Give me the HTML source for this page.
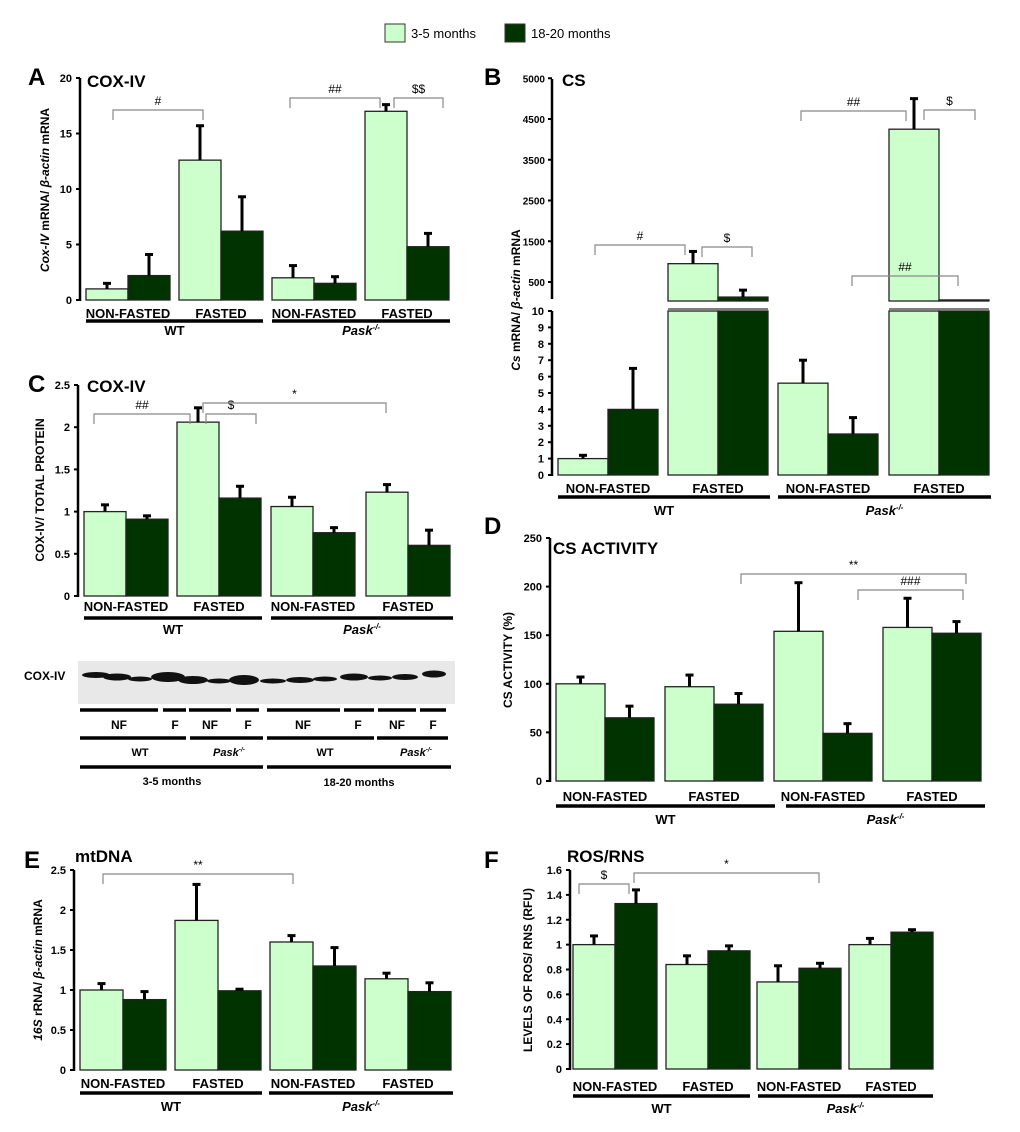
<!DOCTYPE html>
<html><head><meta charset="utf-8"><style>
body{margin:0;background:#fff;}
svg{display:block;font-family:"Liberation Sans",sans-serif;}
</style></head><body>
<svg id="fig" width="1020" height="1132" viewBox="0 0 1020 1132"></svg>
<script>
// ---------- DATA ----------
const groups = ["NON-FASTED","FASTED","NON-FASTED","FASTED"];
const aYoung=[1.0,12.6,2.0,17.0], aYoungErr=[1.5,15.7,3.1,17.6];
const aOld=[2.2,6.2,1.5,4.8], aOldErr=[4.1,9.3,2.1,6.0];
const aTicks=[0,5,10,15,20];
const bYoungLow=[1.0,10,5.6,10], bYoungLowErr=[1.2,null,7.0,null];
const bOldLow=[4.0,10,2.5,10], bOldLowErr=[6.5,null,3.5,null];
const bYoungHigh=[null,950,null,4250], bYoungHighErr=[null,1250,null,5000];
const bOldHigh=[null,130,null,60], bOldHighErr=[null,300,null,null];
const bTicksLow=[0,1,2,3,4,5,6,7,8,9,10];
const bTicksHigh=[500,1500,2500,3500,4500,5500];
const bTickLabelsHigh=["500","1500","2500","3500","4500","5000"];
const cYoung=[1.0,2.06,1.06,1.23], cYoungErr=[1.08,2.23,1.17,1.32];
const cOld=[0.91,1.16,0.75,0.6], cOldErr=[0.95,1.3,0.81,0.78];
const cTicks=[0,0.5,1,1.5,2,2.5];
const dYoung=[100,97,154,158], dYoungErr=[107,109,204,188];
const dOld=[65,79,49,152], dOldErr=[77,90,59,164];
const dTicks=[0,50,100,150,200,250];
const eYoung=[1.0,1.87,1.6,1.14], eYoungErr=[1.08,2.32,1.68,1.21];
const eOld=[0.88,0.99,1.3,0.98], eOldErr=[0.98,1.01,1.53,1.09];
const eTicks=[0,0.5,1,1.5,2,2.5];
const fYoung=[1.0,0.84,0.7,1.0], fYoungErr=[1.07,0.91,0.83,1.05];
const fOld=[1.33,0.95,0.81,1.1], fOldErr=[1.44,0.99,0.85,1.12];
const fTicks=[0,0.2,0.4,0.6,0.8,1,1.2,1.4,1.6];

const LIGHT="#ccffcc", DARK="#003300";
const svg=document.getElementById('fig');
const NS="http://www.w3.org/2000/svg";
function el(tag,attrs,parent){const e=document.createElementNS(NS,tag);for(const k in attrs)e.setAttribute(k,attrs[k]);(parent||svg).appendChild(e);return e;}
function txt(x,y,s,size,anchor,extra,parent){const t=el('text',Object.assign({x:x,y:y,'font-size':size,'font-weight':'bold','text-anchor':anchor||'start'},extra||{}),parent);t.textContent=s;return t;}
function pask(x,y,size,anchor,parent){const t=el('text',{x:x,y:y,'font-size':size,'font-weight':'bold','font-style':'italic','text-anchor':anchor||'middle'},parent);t.textContent='Pask';const s=el('tspan',{'font-size':size*0.6,dy:-size*0.4},t);s.textContent='-/-';return t;}

function bars(g,scale,starts,bw,vals,errs,fill,off,name){
  vals.forEach((v,i)=>{
    if(v==null)return;
    const x=starts[i]+off;
    const y=scale(v), y0=scale.base;
    const r=el('rect',{x:x,y:Math.min(y,y0),width:bw,height:Math.abs(y0-y),fill:fill,stroke:'#222','stroke-width':1.3},g);
    
    
    if(errs[i]!=null){
      const ye=scale(errs[i]), cx=x+bw/2;
      const l=el('line',{x1:cx,x2:cx,y1:y,y2:ye,stroke:'#000','stroke-width':3},g);
      
      
      el('line',{x1:cx-4,x2:cx+4,y1:ye,y2:ye,stroke:'#000','stroke-width':3},g);
    }
  });
}
function yaxis(g,ax,scale,ticks,fmt,size){
  el('line',{x1:ax,x2:ax,y1:scale(ticks[ticks.length-1]),y2:scale(ticks[0])+1,stroke:'#000','stroke-width':2.5},g);
  ticks.forEach(t=>{const y=scale(t);el('line',{x1:ax-4,x2:ax,y1:y,y2:y,stroke:'#000','stroke-width':2},g);
    const tt=txt(ax-8,y+4,fmt?fmt(t):String(t),size||11,'end',{},g);
    });
}
function xlabels(g,starts,bw,ly,uly,wy,splitX,endX,size){
  groups.forEach((s,i)=>{txt(starts[i]+bw,ly,s,size||13,'middle',{},g);});
  el('line',{x1:starts[0],x2:splitX[0],y1:uly,y2:uly,stroke:'#000','stroke-width':3.5},g);
  el('line',{x1:splitX[1],x2:endX,y1:uly,y2:uly,stroke:'#000','stroke-width':3.5},g);
  txt((starts[0]+splitX[0])/2,wy,'WT',13,'middle',{},g);
  pask((splitX[1]+endX)/2,wy,13,'middle',g);
}
function bracket(g,x1,x2,y,h,label){
  el('path',{d:`M${x1} ${y+h}V${y}H${x2}V${y+h}`,fill:'none',stroke:'#888','stroke-width':1.2},g);
  txt((x1+x2)/2,y-5,label,12,'middle',{'font-weight':'normal'},g);
}
function lin(v0,y0,v1,y1){const f=v=>y0+(v-v0)*(y1-y0)/(v1-v0);f.base=y0;return f;}
function panel(name){const g=el('g',{});return g;}

// ---------- LEGEND ----------
const lg=panel('legend');
const le1=el('rect',{x:385,y:24,width:20,height:18,fill:LIGHT,stroke:'#333'},lg);

txt(411,38,'3-5 months',13,'start',{'font-weight':'normal'},lg);
const le2=el('rect',{x:505,y:24,width:20,height:18,fill:DARK,stroke:'#333'},lg);

txt(531,38,'18-20 months',13,'start',{'font-weight':'normal'},lg);

// ---------- A ----------
{const g=panel('panel-a-cox-iv-mrna');const s=lin(0,300,20,78);const st=[86,179,272,365],bw=42;
 txt(28,85,'A',24,'start',{},g);txt(87,87,'COX-IV',17,'start',{},g);
 yaxis(g,80,s,aTicks);bars(g,s,st,bw,aYoung,aYoungErr,LIGHT,0,'a-3-5m');bars(g,s,st,bw,aOld,aOldErr,DARK,bw,'a-18-20m');
 xlabels(g,st,bw,318,321,335,[263,272],450,13);
 const yt=el('text',{transform:'translate(49,190) rotate(-90)','font-size':12,'font-weight':'bold','text-anchor':'middle'},g);
 yt.innerHTML='<tspan font-style="italic">Cox-IV</tspan> mRNA/ <tspan font-style="italic">β-actin</tspan> mRNA';
 bracket(g,113,203,110,10,'#');bracket(g,290,380,98,10,'##');bracket(g,394,443,98,10,'$$');}

// ---------- B ----------
{const g=panel('panel-b-cs-mrna');const st=[558,668,778,889],bw=50;
 const sh=lin(500,282,4500,119);const shc=v=>Math.min(sh(v),301);shc.base=301;
 const sl=lin(0,475,10,311);
 txt(484,85,'B',24,'start',{},g);txt(562,86,'CS',17,'start',{},g);
 el('line',{x1:552,x2:552,y1:79,y2:299,stroke:'#000','stroke-width':2.5},g);
 bTicksHigh.forEach((t,i)=>{const y=sh(t);el('line',{x1:548,x2:552,y1:y,y2:y,stroke:'#000','stroke-width':2},g);txt(545,y+4,bTickLabelsHigh[i],10,'end',{},g);});
 yaxis(g,552,sl,bTicksLow,null,11);
 bars(g,shc,st,bw,bYoungHigh,bYoungHighErr,LIGHT,0,'b-top-3-5m');bars(g,shc,st,bw,bOldHigh,bOldHighErr,DARK,bw,'b-top-18-20m');
 bars(g,sl,st,bw,bYoungLow,bYoungLowErr,LIGHT,0,'b-3-5m');bars(g,sl,st,bw,bOldLow,bOldLowErr,DARK,bw,'b-18-20m');
 [1,3].forEach(i=>el('line',{x1:st[i],x2:st[i]+2*bw,y1:309,y2:309,stroke:'#555','stroke-width':1.5},g));
 xlabels(g,st,bw,493,497,515,[770,778],991,13);
 const yt=el('text',{transform:'translate(520,300) rotate(-90)','font-size':12,'font-weight':'bold','text-anchor':'middle'},g);
 yt.innerHTML='<tspan font-style="italic">Cs</tspan> mRNA/ <tspan font-style="italic">β-actin</tspan> mRNA';
 bracket(g,595,685,245,10,'#');bracket(g,702,752,247,10,'$');
 bracket(g,801,906,111,10,'##');bracket(g,924,975,110,10,'$');bracket(g,852,958,276,10,'##');}

// ---------- C ----------
{const g=panel('panel-c-cox-iv-protein');const s=lin(0,596,2.5,385);const st=[84,177,271,366],bw=42;
 txt(28,392,'C',24,'start',{},g);txt(87,392,'COX-IV',17,'start',{},g);
 yaxis(g,78,s,cTicks);bars(g,s,st,bw,cYoung,cYoungErr,LIGHT,0,'c-3-5m');bars(g,s,st,bw,cOld,cOldErr,DARK,bw,'c-18-20m');
 xlabels(g,st,bw,611,618,634,[262,271],453,13);
 txt(44,490,'COX-IV/ TOTAL PROTEIN',12,'middle',{transform:'rotate(-90 44 490)'},g);
 bracket(g,94,190,414,10,'##');bracket(g,206,256,414,10,'$');bracket(g,203,386,403,10,'*');}

// ---------- BLOT ----------
{const g=panel('western-blot');
 el('rect',{x:78,y:661,width:377,height:43,fill:'#e8e8e8'},g);
 txt(24,680,'COX-IV',12,'start',{},g);
 const lanes=[[96,675,14,3],[117,677,14,3.5],[140,679,12,2.5],[168,677,17,5],[193,680,15,4],[219,681,12,2.5],[244,680,15,5],[273,681,13,2.5],[300,680,14,3],[325,679,12,2.5],[354,677,14,3.5],[380,678,12,2.5],[405,677,13,3],[434,674,12,3.5]];
 lanes.forEach((l,i)=>{const e=el('ellipse',{cx:l[0],cy:l[1],rx:l[2],ry:l[3],fill:'#111'},g);
   
   });
 const s1=[[80,158],[163,186],[189,231],[236,259],[267,340],[344,374],[378,416],[420,446]];
 s1.forEach(p=>el('line',{x1:p[0],x2:p[1],y1:710,y2:710,stroke:'#000','stroke-width':3.5},g));
 [['NF',119],['F',175],['NF',210],['F',248],['NF',303],['F',358],['NF',397],['F',433]].forEach(a=>txt(a[1],729,a[0],12,'middle',{},g));
 [[80,186],[190,263],[267,374],[377,448]].forEach(p=>el('line',{x1:p[0],x2:p[1],y1:738,y2:738,stroke:'#000','stroke-width':3.5},g));
 txt(140,756,'WT',11,'middle',{},g);pask(229,756,11,'middle',g);txt(325,756,'WT',11,'middle',{},g);pask(416,756,11,'middle',g);
 [[80,263],[267,451]].forEach(p=>el('line',{x1:p[0],x2:p[1],y1:767,y2:767,stroke:'#000','stroke-width':3.5},g));
 txt(172,785,'3-5 months',11,'middle',{},g);txt(359,786,'18-20 months',11,'middle',{},g);}

// ---------- D ----------
{const g=panel('panel-d-cs-activity');const s=lin(0,781,250,538);const st=[556,665,774,883],bw=49;
 txt(484,534,'D',24,'start',{},g);txt(553,554,'CS ACTIVITY',17,'start',{},g);
 yaxis(g,550,s,dTicks);bars(g,s,st,bw,dYoung,dYoungErr,LIGHT,0,'d-3-5m');bars(g,s,st,bw,dOld,dOldErr,DARK,bw,'d-18-20m');
 xlabels(g,st,bw,801,806,824,[775,786],985,13);
 txt(512,660,'CS ACTIVITY (%)',12,'middle',{transform:'rotate(-90 512 660)'},g);
 bracket(g,741,966,574,10,'**');bracket(g,858,963,590,10,'###');}

// ---------- E ----------
{const g=panel('panel-e-mtdna');const s=lin(0,1070,2.5,870);const st=[80,175,270,365],bw=43;
 txt(24,868,'E',24,'start',{},g);txt(75,862,'mtDNA',17,'start',{},g);
 yaxis(g,74,s,eTicks);bars(g,s,st,bw,eYoung,eYoungErr,LIGHT,0,'e-3-5m');bars(g,s,st,bw,eOld,eOldErr,DARK,bw,'e-18-20m');
 xlabels(g,st,bw,1088,1093,1111,[262,269],453,13);
 const yt=el('text',{transform:'translate(42,970) rotate(-90)','font-size':12,'font-weight':'bold','text-anchor':'middle'},g);
 yt.innerHTML='<tspan font-style="italic">16S</tspan> rRNA/ <tspan font-style="italic">β-actin</tspan> mRNA';
 bracket(g,103,293,874,10,'**');}

// ---------- F ----------
{const g=panel('panel-f-ros-rns');const s=lin(0,1069,1.6,870);const st=[573,666,757,849],bw=42;
 txt(484,868,'F',24,'start',{},g);txt(567,862,'ROS/RNS',17,'start',{},g);
 yaxis(g,570,s,fTicks);bars(g,s,st,bw,fYoung,fYoungErr,LIGHT,0,'f-3-5m');bars(g,s,st,bw,fOld,fOldErr,DARK,bw,'f-18-20m');
 xlabels(g,st,bw,1091,1096,1113,[750,758],933,13);
 txt(532,970,'LEVELS OF ROS/ RNS (RFU)',12,'middle',{transform:'rotate(-90 532 970)'},g);
 bracket(g,579,629,884,10,'$');bracket(g,634,819,873,10,'*');}
</script>
</body></html>
